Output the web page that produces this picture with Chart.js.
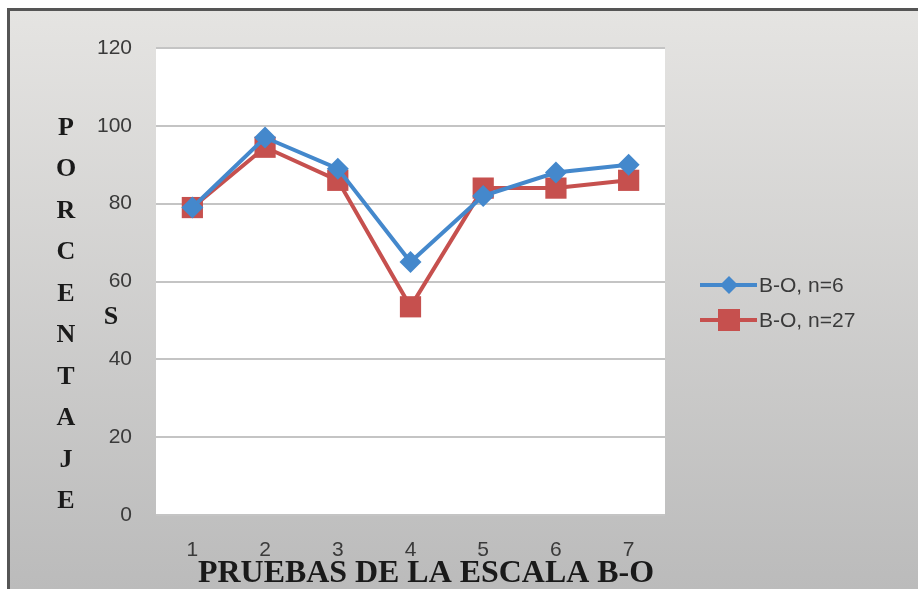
<!DOCTYPE html>
<html lang="es">
<head>
<meta charset="UTF-8">
<title>Pruebas de la escala B-O</title>
<script src="https://cdn.jsdelivr.net/npm/chart.js"></script>
<style>
  html, body { margin: 0; padding: 0; background: #fff; }
  #wrap { width: 918px; height: 589px; }
</style>
</head>
<body>
<div id="wrap"><canvas id="chart" width="918" height="589"></canvas></div>
<script>
// datos
const pruebas = ['1', '2', '3', '4', '5', '6', '7'];
const serieN6 = [79, 97, 89, 65, 82, 88, 90];
const serieN27 = [79, 94.5, 86, 53.5, 84, 84, 86];
const etiquetas = ['B-O, n=6', 'B-O, n=27'];
const tituloY = ['P', 'O', 'R', 'C', 'E', 'N', 'T', 'A', 'J', 'E'];
const tituloX = 'PRUEBAS DE LA ESCALA B-O';

const azul = '#4488cc';
const rojo = '#c6504e';

// fondo gris con degradado, marco y area blanca
const fondo = {
  id: 'fondo',
  beforeDraw(chart) {
    const c = chart.ctx, a = chart.chartArea;
    c.save();
    c.fillStyle = '#fff';
    c.fillRect(0, 0, chart.width, chart.height);
    const g = c.createLinearGradient(0, 10, 0, chart.height);
    g.addColorStop(0, '#e5e4e2');
    g.addColorStop(1, '#bbbbbb');
    c.fillStyle = g;
    c.fillRect(9, 10, chart.width - 9, chart.height - 10);
    c.strokeStyle = '#555';
    c.lineWidth = 3;
    c.beginPath();
    c.moveTo(8.5, chart.height);
    c.lineTo(8.5, 9.5);
    c.lineTo(chart.width, 9.5);
    c.stroke();
    c.fillStyle = '#fff';
    c.fillRect(a.left, a.top, a.right - a.left, a.bottom - a.top);
    c.restore();
  }
};

// titulos y leyenda
const textos = {
  id: 'textos',
  afterDraw(chart) {
    const c = chart.ctx;
    c.save();
    c.fillStyle = '#1a1a1a';
    c.font = 'bold 26px "Liberation Serif", serif';
    c.textAlign = 'center';
    c.textBaseline = 'middle';
    tituloY.forEach((l, i) => c.fillText(l, 66, 128 + i * 41.5));
    c.fillText('S', 111, 317);
    c.font = 'bold 31px "Liberation Serif", serif';
    c.textAlign = 'left';
    const w = c.measureText(tituloX).width;
    c.save();
    c.translate(198, 574);
    c.scale(456 / w, 1);
    c.fillText(tituloX, 0, 0);
    c.restore();

    const colores = [azul, rojo];
    chart.data.datasets.forEach((ds, i) => {
      const y = 285 + i * 35;
      c.strokeStyle = colores[i];
      c.lineWidth = 4;
      c.beginPath();
      c.moveTo(700, y);
      c.lineTo(757, y);
      c.stroke();
      c.fillStyle = colores[i];
      if (i === 0) {
        c.beginPath();
        c.moveTo(729, y - 9);
        c.lineTo(738, y);
        c.lineTo(729, y + 9);
        c.lineTo(720, y);
        c.closePath();
        c.fill();
      } else {
        c.fillRect(718, y - 11, 22, 22);
      }
      c.fillStyle = '#3a3a3a';
      c.font = '21px "Liberation Sans", sans-serif';
      c.textAlign = 'left';
      c.fillText(etiquetas[i], 759, y + 1);
    });
    c.restore();
  }
};

new Chart(document.getElementById('chart'), {
  type: 'line',
  data: {
    labels: pruebas,
    datasets: [
      {
        label: etiquetas[0],
        data: serieN6,
        borderColor: azul,
        backgroundColor: azul,
        borderWidth: 4,
        pointStyle: 'rectRot',
        pointRadius: 11,
        pointBorderWidth: 0,
        tension: 0
      },
      {
        label: etiquetas[1],
        data: serieN27,
        borderColor: rojo,
        backgroundColor: rojo,
        borderWidth: 4,
        pointStyle: 'rect',
        pointRadius: 15,
        pointBorderWidth: 0,
        tension: 0
      }
    ]
  },
  options: {
    responsive: false,
    animation: false,
    layout: { padding: { left: 0, top: 48, right: 253, bottom: 0 } },
    plugins: { legend: { display: false }, tooltip: { enabled: false } },
    scales: {
      x: {
        offset: true,
        grid: { display: false, drawTicks: false },
        border: { display: false },
        ticks: { padding: 23, color: '#3a3a3a', font: { size: 21, family: '"Liberation Sans", sans-serif' } },
        afterFit(s) { s.height = 74; }
      },
      y: {
        min: 0,
        max: 120,
        grid: { color: '#c4c4c4', lineWidth: 2, drawTicks: false },
        border: { display: false },
        ticks: { stepSize: 20, padding: 24, color: '#3a3a3a', font: { size: 21, family: '"Liberation Sans", sans-serif' } },
        afterFit(s) { s.width = 156; }
      }
    }
  },
  plugins: [fondo, textos]
});
</script>
</body>
</html>
